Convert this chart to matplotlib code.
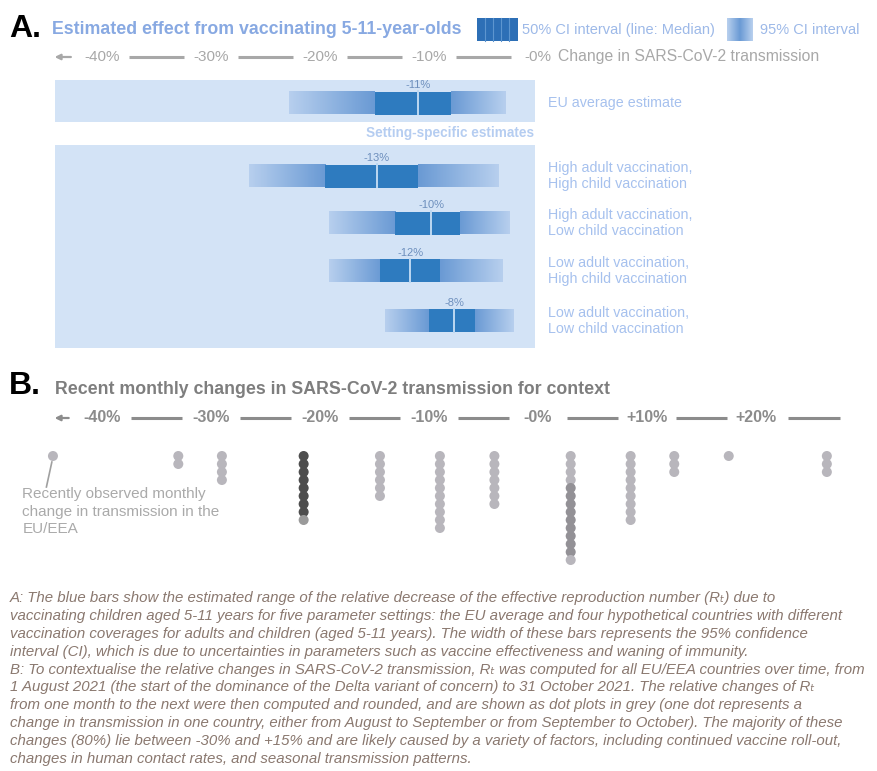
import numpy as np
import matplotlib
matplotlib.use("Agg")
import matplotlib.pyplot as plt
from matplotlib.colors import LinearSegmentedColormap
from matplotlib.patches import Rectangle

plt.rcParams["font.family"] = ["Liberation Sans", "DejaVu Sans"]

# ---- panel A data: estimated change in transmission (%) ----
settings = ["EU average estimate",
            "High adult vaccination,\nHigh child vaccination",
            "High adult vaccination,\nLow child vaccination",
            "Low adult vaccination,\nHigh child vaccination",
            "Low adult vaccination,\nLow child vaccination"]
median = [-11.0, -14.8, -9.8, -11.7, -7.7]
median_label = ["-11%", "-13%", "-10%", "-12%", "-8%"]
ci50_lo = [-15.0, -19.5, -13.1, -14.5, -10.0]
ci50_hi = [-8.0, -11.0, -7.2, -9.0, -5.8]
ci95_lo = [-22.8, -26.5, -19.2, -19.2, -14.0]
ci95_hi = [-3.0, -3.6, -2.7, -3.3, -2.3]

# ---- panel B data: observed monthly changes (%), one dot per country-month ----
obs_change = [-44.5, -33.0, -29.0, -21.5, -14.5, -9.0, -4.0, 3.0, 8.5, 12.5, 17.5, 26.5]
obs_count = [1, 2, 4, 9, 6, 10, 7, 14, 9, 3, 1, 3]

axis_ticks_a = [-40, -30, -20, -10, 0]
axis_ticks_b = [-40, -30, -20, -10, 0, 10, 20]

footnote = [
    "A: The blue bars show the estimated range of the relative decrease of the effective reproduction number (R\u209c) due to",
    "vaccinating children aged 5-11 years for five parameter settings: the EU average and four hypothetical countries with different",
    "vaccination coverages for adults and children (aged 5-11 years). The width of these bars represents the 95% confidence",
    "interval (CI), which is due to uncertainties in parameters such as vaccine effectiveness and waning of immunity.",
    "B: To contextualise the relative changes in SARS-CoV-2 transmission, R\u209c was computed for all EU/EEA countries over time, from",
    "1 August 2021 (the start of the dominance of the Delta variant of concern) to 31 October 2021. The relative changes of R\u209c",
    "from one month to the next were then computed and rounded, and are shown as dot plots in grey (one dot represents a",
    "change in transmission in one country, either from August to September or from September to October). The majority of these",
    "changes (80%) lie between -30% and +15% and are likely caused by a variety of factors, including continued vaccine roll-out,",
    "changes in human contact rates, and seasonal transmission patterns.",
]

W, H = 877, 771
fig = plt.figure(figsize=(W / 100, H / 100), dpi=100)
fig.patch.set_facecolor("white")


def fx(px):
    return px / W


def fy(py):
    return 1 - py / H


# shared x scale: pixel x = 538 + 10.9 * percent
XLIM = (-538 / 10.9, (W - 538) / 10.9)

BLUE_DARK = "#2e7bbf"
BLUE_TXT = "#a6c1ee"
GREY_AX = "#a8a8a8"

# ================= panel A =================
axA = fig.add_axes([0, fy(355), 1, 355 / H])
axA.set_xlim(*XLIM)
axA.set_ylim(355, 0)
axA.axis("off")

row_y = [103, 176, 223, 271, 321]
bh = 23

# background bands
axA.add_patch(Rectangle((-44.3, 80), 44.0, 42, fc="#d3e3f6", ec="none", zorder=0))
axA.add_patch(Rectangle((-44.3, 145), 44.0, 203, fc="#d3e3f6", ec="none", zorder=0))

grad = LinearSegmentedColormap.from_list("g", ["#6a9ad4", "#b7cfee"])
for i, y in enumerate(row_y):
    y0, y1 = y - bh / 2, y + bh / 2
    t = np.linspace(1, 0, 64)[None, :]
    axA.imshow(t, cmap=grad, vmin=0, vmax=1, aspect="auto",
               extent=[ci95_lo[i], ci50_lo[i], y1, y0], zorder=2)
    t = np.linspace(0, 1, 64)[None, :]
    axA.imshow(t, cmap=grad, vmin=0, vmax=1, aspect="auto",
               extent=[ci50_hi[i], ci95_hi[i], y1, y0], zorder=2)
    axA.add_patch(Rectangle((ci50_lo[i], y0), ci50_hi[i] - ci50_lo[i], bh,
                            fc=BLUE_DARK, ec="none", zorder=3))
    axA.plot([median[i], median[i]], [y0, y1], color="#bcd8f2", lw=1.4, zorder=4)
    axA.text(median[i], y0 - 1.5, median_label[i], ha="center", va="bottom",
             fontsize=8, color="#6d8fbd", zorder=5)
    axA.text(0.9, y, settings[i], ha="left", va="center", fontsize=10.3,
             color=BLUE_TXT, linespacing=1.22)

axA.set_xlim(*XLIM)
axA.set_ylim(355, 0)

axA.text(-0.4, 133, "Setting-specific estimates", ha="right", va="center",
         fontsize=9.8, fontweight="bold", color="#b5cdf1")


def draw_axis_line(ax, ticks, y, color, size, weight, gap, tail=None):
    labels = ["-0%" if v == 0 else f"{v:+d}%" for v in ticks]
    for v, lab in zip(ticks, labels):
        ax.text(v, y, lab, ha="center", va="center", fontsize=size,
                color=color, fontweight=weight)
    for a, b in zip(ticks[:-1], ticks[1:]):
        ax.plot([a + gap, b - gap], [y, y], color=color, lw=2.2,
                solid_capstyle="butt")
    ax.annotate("", xy=(ticks[0] - 4.6, y), xytext=(ticks[0] - gap - 0.1, y),
                arrowprops=dict(arrowstyle="-|>", color=color, lw=1.6,
                                mutation_scale=8))
    if tail is not None:
        ax.plot([ticks[-1] + gap + 0.2, tail], [y, y], color=color, lw=2.2,
                solid_capstyle="butt")


draw_axis_line(axA, axis_ticks_a, 57, GREY_AX, 11, "normal", 2.5)
axA.text(1.8, 57, "Change in SARS-CoV-2 transmission", ha="left", va="center",
         fontsize=11.3, color=GREY_AX)

# header A
fig.text(fx(9), fy(29), "A.", fontsize=23, fontweight="bold", color="black",
         ha="left", va="center")
fig.text(fx(52), fy(30), "Estimated effect from vaccinating 5-11-year-olds",
         fontsize=12.8, fontweight="bold", color="#88a9e2", ha="left", va="center")
fig.patches.append(Rectangle((fx(477), fy(41)), fx(41), 23 / H, fc="#2d6fb6",
                             ec="none", transform=fig.transFigure, figure=fig))
for k in range(1, 5):
    fig.lines.append(plt.Line2D([fx(477 + 8 * k)] * 2, [fy(41), fy(18)],
                                color="#5d95cf", lw=0.8, transform=fig.transFigure))
fig.text(fx(522), fy(30), "50% CI interval (line: Median)", fontsize=10.5,
         color="#9db9e8", ha="left", va="center")
icon = np.linspace(0, 1, 32)[None, :]
axI = fig.add_axes([fx(727), fy(41), fx(26), 23 / H])
axI.imshow(np.abs(icon - 0.5) * 2, cmap=grad, vmin=0, vmax=1, aspect="auto")
axI.axis("off")
fig.text(fx(760), fy(30), "95% CI interval", fontsize=10.5,
         color="#9db9e8", ha="left", va="center")

# ================= panel B =================
axB = fig.add_axes([0, fy(575), 1, 215 / H])
axB.set_xlim(*XLIM)
axB.set_ylim(575, 360)
axB.axis("off")

draw_axis_line(axB, axis_ticks_b, 418, "#8c8c8c", 11.5, "bold", 2.7, tail=27.7)

fig.text(fx(9), fy(386), "B.", fontsize=23, fontweight="bold", color="black",
         ha="left", va="center")
fig.text(fx(55), fy(389), "Recent monthly changes in SARS-CoV-2 transmission for context",
         fontsize=12.8, fontweight="bold", color="#7e7e7e", ha="left", va="center")

for j, (v, n) in enumerate(zip(obs_change, obs_count)):
    ys = 456 + 8 * np.arange(n)
    cols = ["#b8b6bc"] * n
    if j == 3:
        cols = ["#4e4e4e"] * (n - 1) + ["#9a9a9a"]
    if j == 7:
        cols = ["#b8b6bc"] * 4 + ["#939196"] * (n - 5) + ["#b8b6bc"]
    axB.scatter([v] * n, ys, s=52, c=cols, edgecolors="none", zorder=3)

axB.plot([obs_change[0] - 0.1, obs_change[0] - 0.6], [462, 487],
         color="#a0a0a0", lw=1.2)
axB.text(-47.3, 487, "Recently observed monthly\nchange in transmission in the\nEU/EEA",
         ha="left", va="top", fontsize=11, color="#aaaaaa", linespacing=1.32)

# ================= footnote =================
for k, line in enumerate(footnote):
    fig.text(fx(10), fy(598 + 17.9 * k), line, fontsize=10.85, style="italic",
             color="#8a786f", ha="left", va="center")

fig.savefig("out.png", dpi=100)
